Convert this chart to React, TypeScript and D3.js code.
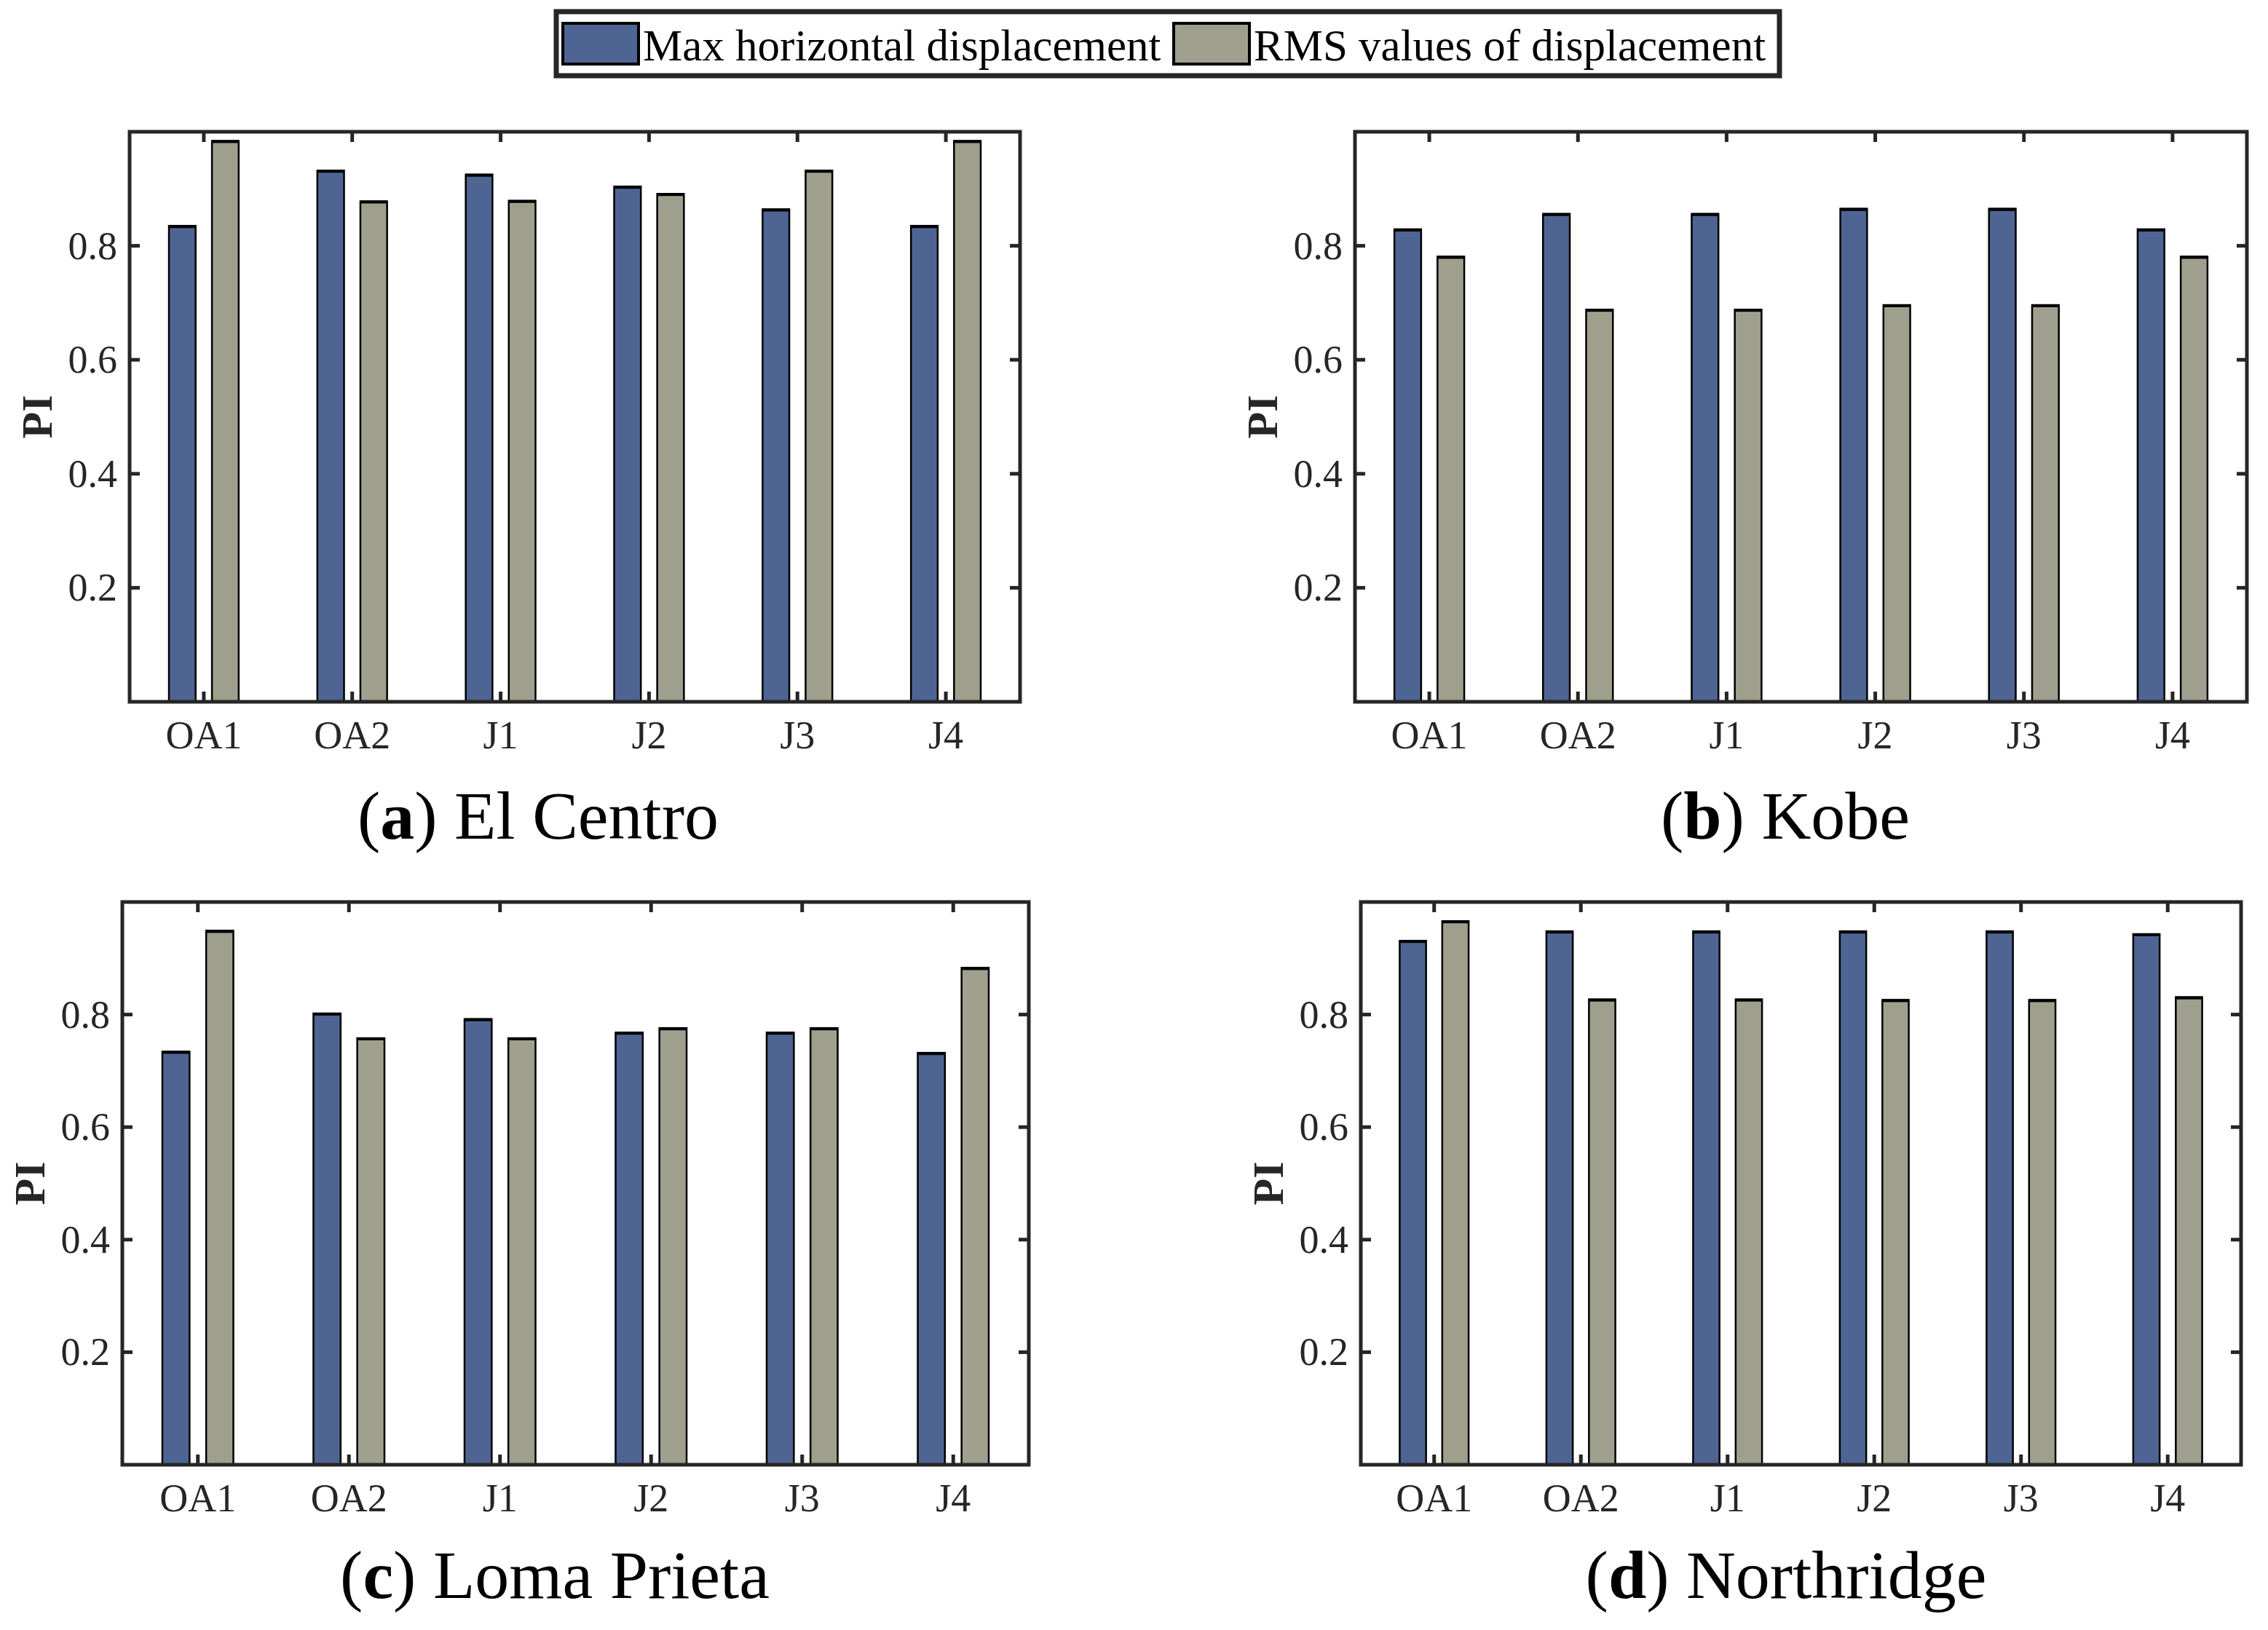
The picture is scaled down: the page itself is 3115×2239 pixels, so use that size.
import React, { useEffect, useRef } from 'react';
import * as d3 from 'd3';

// categories + values
const categories = ['OA1', 'OA2', 'J1', 'J2', 'J3', 'J4'];
const seriesNames = ['Max horizontal displacement', 'RMS values of displacement'];
const yTicks = [0.2, 0.4, 0.6, 0.8];

const elCentroMax = [0.835, 0.932, 0.925, 0.904, 0.864, 0.835];
const elCentroRms = [0.984, 0.878, 0.879, 0.891, 0.932, 0.984];
const kobeMax = [0.829, 0.856, 0.856, 0.865, 0.865, 0.829];
const kobeRms = [0.781, 0.688, 0.688, 0.696, 0.696, 0.781];
const lomaMax = [0.734, 0.802, 0.792, 0.768, 0.768, 0.732];
const lomaRms = [0.949, 0.758, 0.758, 0.776, 0.776, 0.883];
const northMax = [0.931, 0.948, 0.948, 0.948, 0.948, 0.943];
const northRms = [0.966, 0.827, 0.827, 0.826, 0.826, 0.831];

const BLUE = '#4e6493';
const GREY = '#9f9f8e';
const AXIS = '#262626';
const FONT = '"Liberation Serif", "Times New Roman", serif';

type Panel = {
  letter: string;
  title: string;
  max: number[];
  rms: number[];
  box: { left: number; right: number; top: number; bottom: number };
  titleX: number;
  titleY: number;
};

const panels: Panel[] = [
  { letter: 'a', title: 'El Centro', max: elCentroMax, rms: elCentroRms,
    box: { left: 178, right: 1401, top: 181, bottom: 964 }, titleX: 739, titleY: 1152 },
  { letter: 'b', title: 'Kobe', max: kobeMax, rms: kobeRms,
    box: { left: 1861, right: 3086, top: 181, bottom: 964 }, titleX: 2452, titleY: 1152 },
  { letter: 'c', title: 'Loma Prieta', max: lomaMax, rms: lomaRms,
    box: { left: 168, right: 1413, top: 1239, bottom: 2012 }, titleX: 762, titleY: 2195 },
  { letter: 'd', title: 'Northridge', max: northMax, rms: northRms,
    box: { left: 1869, right: 3078, top: 1239, bottom: 2012 }, titleX: 2453, titleY: 2195 },
];

const App: React.FC = () => {
  const svgRef = useRef<SVGSVGElement>(null);

  useEffect(() => {
    const svg = d3.select(svgRef.current);
    svg.selectAll('*').remove();

    svg.append('rect').attr('width', 3115).attr('height', 2239).attr('fill', 'white');

    // legend
    const legend = svg.append('g');
    legend
      .append('rect')
      .attr('x', 764)
      .attr('y', 16)
      .attr('width', 1680)
      .attr('height', 88)
      .attr('fill', 'white')
      .attr('stroke', AXIS)
      .attr('stroke-width', 7);

    const legendX = [773, 1612];
    seriesNames.forEach((name, i) => {
      legend
        .append('rect')
        .attr('x', legendX[i])
        .attr('y', 32)
        .attr('width', 104)
        .attr('height', 56)
        .attr('fill', i === 0 ? BLUE : GREY)
        .attr('stroke', 'black')
        .attr('stroke-width', 4);
      legend
        .append('text')
        .attr('x', legendX[i] + 110)
        .attr('y', 83)
        .attr('font-family', FONT)
        .attr('font-size', 61)
        .attr('fill', 'black')
        .text(name);
    });

    panels.forEach((p) => {
      const { left, right, top, bottom } = p.box;
      const x = d3.scaleLinear().domain([0.5, categories.length + 0.5]).range([left, right]);
      const y = d3.scaleLinear().domain([0, 1]).range([bottom, top]);
      const g = svg.append('g');

      const barW = x(0.68) - x(0.5);
      const offset = 0.145;

      const drawBars = (vals: number[], color: string, dir: number) => {
        const bars = g.append('g');
        bars
          .selectAll('rect')
          .data(vals)
          .join('rect')
          .attr('x', (d, i) => x(i + 1 + dir * offset) - barW / 2)
          .attr('y', (d) => y(d))
          .attr('width', barW)
          .attr('height', (d) => y(0) - y(d))
          .attr('fill', color)
          .attr('stroke', 'black')
          .attr('stroke-width', 2.5);
        // the top edge reads a bit heavier in the original
        bars
          .selectAll('line')
          .data(vals)
          .join('line')
          .attr('x1', (d, i) => x(i + 1 + dir * offset) - barW / 2)
          .attr('x2', (d, i) => x(i + 1 + dir * offset) + barW / 2)
          .attr('y1', (d) => y(d) + 1)
          .attr('y2', (d) => y(d) + 1)
          .attr('stroke', 'black')
          .attr('stroke-width', 4);
      };
      drawBars(p.max, BLUE, -1);
      drawBars(p.rms, GREY, 1);

      const tickLen = 14;
      const ticks = g.append('g').attr('stroke', AXIS).attr('stroke-width', 5);
      categories.forEach((c, i) => {
        const cx = x(i + 1);
        ticks.append('line').attr('x1', cx).attr('x2', cx).attr('y1', bottom).attr('y2', bottom - tickLen);
        ticks.append('line').attr('x1', cx).attr('x2', cx).attr('y1', top).attr('y2', top + tickLen);
      });
      yTicks.forEach((t) => {
        const cy = y(t);
        ticks.append('line').attr('x1', left).attr('x2', left + tickLen).attr('y1', cy).attr('y2', cy);
        ticks.append('line').attr('x1', right).attr('x2', right - tickLen).attr('y1', cy).attr('y2', cy);
      });

      // axes box
      g.append('rect')
        .attr('x', left)
        .attr('y', top)
        .attr('width', right - left)
        .attr('height', bottom - top)
        .attr('fill', 'none')
        .attr('stroke', AXIS)
        .attr('stroke-width', 5);

      g.append('g')
        .selectAll('text')
        .data(yTicks)
        .join('text')
        .attr('x', left - 17)
        .attr('y', (d) => y(d) + 18)
        .attr('text-anchor', 'end')
        .attr('font-family', FONT)
        .attr('font-size', 54)
        .attr('fill', AXIS)
        .text((d) => d3.format('.1f')(d));

      g.append('g')
        .selectAll('text')
        .data(categories)
        .join('text')
        .attr('x', (d, i) => x(i + 1))
        .attr('y', bottom + 64)
        .attr('text-anchor', 'middle')
        .attr('font-family', FONT)
        .attr('font-size', 54)
        .attr('fill', AXIS)
        .text((d) => d);

      g.append('text')
        .attr('transform', `translate(${left - 107},${(top + bottom) / 2}) rotate(-90)`)
        .attr('text-anchor', 'middle')
        .attr('font-family', FONT)
        .attr('font-weight', 'bold')
        .attr('font-size', 60)
        .attr('fill', AXIS)
        .text('PI');

      const title = g
        .append('text')
        .attr('x', p.titleX)
        .attr('y', p.titleY)
        .attr('text-anchor', 'middle')
        .attr('font-family', FONT)
        .attr('font-size', 94)
        .attr('fill', 'black');
      title.append('tspan').text('(');
      title.append('tspan').attr('font-weight', 'bold').text(p.letter);
      title.append('tspan').text(') ' + p.title);
    });
  }, []);

  return (
    <div style={{ position: 'absolute', left: 0, top: 0 }}>
      <svg ref={svgRef} width={3115} height={2239} style={{ display: 'block' }} />
    </div>
  );
};

export default App;
